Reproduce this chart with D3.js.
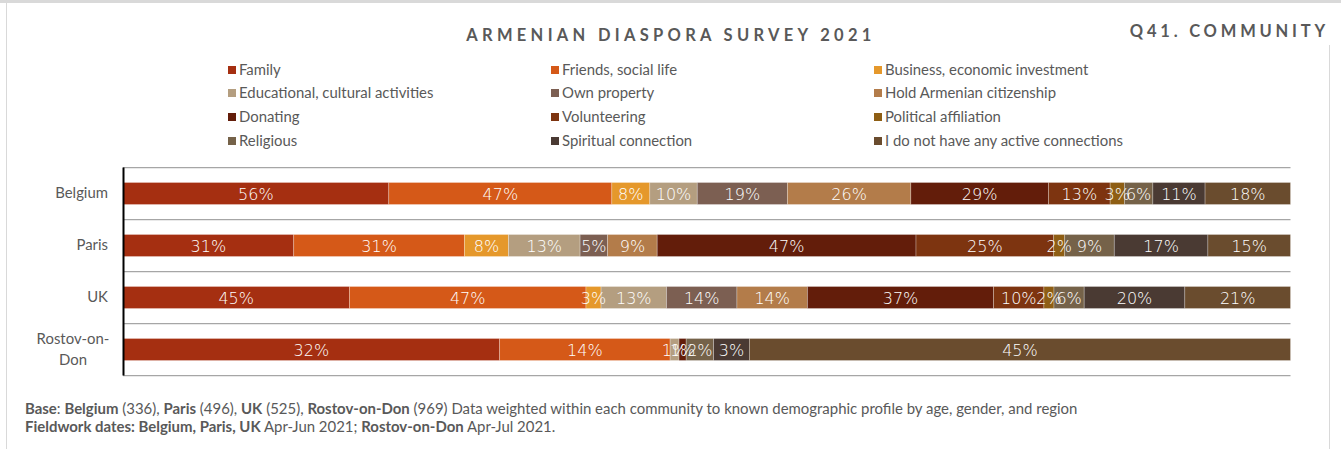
<!DOCTYPE html>
<html>
<head>
<meta charset="utf-8">
<script src="https://cdn.jsdelivr.net/npm/d3@7"></script>
<style>
  html, body { margin: 0; padding: 0; background: #fff; }
  svg { display: block; }
</style>
</head>
<body>
<svg id="chart" width="1341" height="449"></svg>
<script>
const categories = ["Belgium", "Paris", "UK", "Rostov-on-Don"];
const seriesNames = [
  "Family", "Friends, social life", "Business, economic investment",
  "Educational, cultural activities", "Own property", "Hold Armenian citizenship",
  "Donating", "Volunteering", "Political affiliation",
  "Religious", "Spiritual connection", "I do not have any active connections"
];
const colors = ["#a52f11", "#d55918", "#e5982b", "#b49e80", "#7c5f52", "#b37c4a",
                "#631d0a", "#7d3410", "#8e5e14", "#756249", "#4a3a33", "#6a4c2e"];
// Values per series (order: Belgium, Paris, UK, Rostov-on-Don), in %
const family        = [56, 31, 45, 31.6];
const friends       = [47, 31, 47, 14.3];
const business      = [8, 8, 3, 0];
const educational   = [10, 13, 13, 0.75];
const ownProperty   = [19, 5, 14, 0];
const citizenship   = [26, 9, 14, 0];
const donating      = [29, 47, 37, 0.6];
const volunteering  = [13, 25, 10, 0];
const political     = [3, 2, 2, 0];
const religious     = [6, 9, 6, 2.3];
const spiritual     = [11, 17, 20, 3.0];
const noConnection  = [18, 15, 21, 45.4];
const seriesValues = [family, friends, business, educational, ownProperty, citizenship,
                      donating, volunteering, political, religious, spiritual, noConnection];

const svg = d3.select("#chart");
const textColor = "#595959";
const font = "Lato, 'Open Sans', sans-serif";

// frame
svg.append("line").attr("x1", 0).attr("x2", 1341).attr("y1", 1.5).attr("y2", 1.5)
  .attr("stroke", "#d9d9d9").attr("stroke-width", 3);
svg.append("line").attr("x1", 6.5).attr("x2", 6.5).attr("y1", 0).attr("y2", 449)
  .attr("stroke", "#d9d9d9").attr("stroke-width", 1);
svg.append("line").attr("x1", 1329.5).attr("x2", 1329.5).attr("y1", 45).attr("y2", 449)
  .attr("stroke", "#d9d9d9").attr("stroke-width", 1);

// titles
svg.append("text").attr("x", 671).attr("y", 41).attr("text-anchor", "middle")
  .attr("font-family", font).attr("font-weight", "bold")
  .attr("font-size", 16.5).attr("letter-spacing", 4.3).attr("fill", textColor)
  .text("ARMENIAN DIASPORA SURVEY 2021");
svg.append("text").attr("x", 1329).attr("y", 37).attr("text-anchor", "end")
  .attr("font-family", font).attr("font-weight", "bold")
  .attr("font-size", 16.5).attr("letter-spacing", 3.8).attr("fill", textColor)
  .text("Q41. COMMUNITY");

// legend
const legendCols = [229, 552, 875];
const legendRows = [70, 93, 117, 141];
const legend = svg.append("g");
seriesNames.forEach((name, i) => {
  const cx = legendCols[i % 3], cy = legendRows[Math.floor(i / 3)];
  legend.append("rect").attr("x", cx - 1).attr("y", cy - 4).attr("width", 8).attr("height", 8)
    .attr("fill", colors[i]);
  legend.append("text").attr("x", cx + 10).attr("y", cy + 5)
    .attr("font-family", font).attr("font-size", 14.9)
    .attr("fill", textColor).text(name);
});

// data table
const table = categories.map((c, ci) => {
  const row = { category: c };
  seriesNames.forEach((s, si) => { row[s] = seriesValues[si][ci]; });
  return row;
});
const stack = d3.stack().keys(seriesNames).offset(d3.stackOffsetExpand);
const stacked = stack(table);

const x = d3.scaleLinear().domain([0, 1]).range([123, 1290.5]);
const y = d3.scaleBand().domain(categories).range([167, 375]).paddingInner(0).paddingOuter(0);
const barH = 22;

// grid lines (band borders)
const borders = d3.range(categories.length + 1).map(i => 167 + i * y.step());
svg.append("g").selectAll("line").data(borders).join("line")
  .attr("x1", 123).attr("x2", 1290.5)
  .attr("y1", d => Math.round(d) + 0.5).attr("y2", d => Math.round(d) + 0.5)
  .attr("stroke", "#a6a6a6").attr("stroke-width", 1.25);

// bars
const layers = svg.append("g").selectAll("g").data(stacked).join("g")
  .attr("fill", (d, i) => colors[i]);
layers.selectAll("rect").data(d => d.map(v => ({ v, key: d.key }))).join("rect")
  .attr("x", d => x(d.v[0]))
  .attr("y", d => y(d.v.data.category) + y.bandwidth() / 2 - barH / 2 + 0.5)
  .attr("width", d => Math.max(0, x(d.v[1]) - x(d.v[0])))
  .attr("height", barH)
  .attr("stroke", "#ffffff").attr("stroke-opacity", 0.35).attr("stroke-width", 0.75);

// labels
const labels = svg.append("g");
stacked.forEach((layer) => {
  layer.forEach((v) => {
    const val = v.data[layer.key];
    if (!val) return;
    labels.append("text")
      .attr("x", (x(v[0]) + x(v[1])) / 2)
      .attr("y", y(v.data.category) + y.bandwidth() / 2 + 6.5)
      .attr("text-anchor", "middle")
      .attr("font-family", "'DejaVu Sans', sans-serif").attr("font-weight", 200)
      .attr("font-size", 16).attr("fill", "#ffffff")
      .text(Math.round(val) + "%");
  });
});

// axis (left, black line, no ticks)
const yAxis = d3.axisLeft(y).tickSize(0).tickPadding(15);
const ax = svg.append("g").attr("transform", "translate(123,0)").call(yAxis);
ax.select(".domain").attr("stroke", "#000").attr("stroke-width", 2);
ax.selectAll(".tick text").remove();
categories.forEach(c => {
  const cy = y(c) + y.bandwidth() / 2;
  const t = svg.append("text")
    .attr("font-family", font).attr("font-size", 14.9)
    .attr("fill", textColor);
  if (c === "Rostov-on-Don") {
    t.attr("text-anchor", "middle");
    t.append("tspan").attr("x", 73).attr("y", cy - 5).text("Rostov-on-");
    t.append("tspan").attr("x", 73).attr("y", cy + 16).text("Don");
  } else {
    t.attr("text-anchor", "end").attr("x", 108).attr("y", cy + 5).text(c);
  }
});

// footnotes
const foot = svg.append("g").attr("font-family", font)
  .attr("font-size", 14.95).attr("fill", textColor);
const f1 = foot.append("text").attr("x", 25).attr("y", 414);
[["Base", true], [": ", false], ["Belgium", true], [" (336), ", false], ["Paris", true],
 [" (496), ", false], ["UK", true], ["  (525), ", false], ["Rostov-on-Don", true],
 [" (969) Data weighted within each community to known demographic profile by age, gender, and region", false]]
 .forEach(([t, b]) => f1.append("tspan").attr("font-weight", b ? "bold" : "normal").text(t));
const f2 = foot.append("text").attr("x", 25).attr("y", 432);
[["Fieldwork dates: Belgium, Paris, UK", true], [" Apr-Jun 2021; ", false],
 ["Rostov-on-Don", true], [" Apr-Jul 2021.", false]]
 .forEach(([t, b]) => f2.append("tspan").attr("font-weight", b ? "bold" : "normal").text(t));
</script>
</body>
</html>
